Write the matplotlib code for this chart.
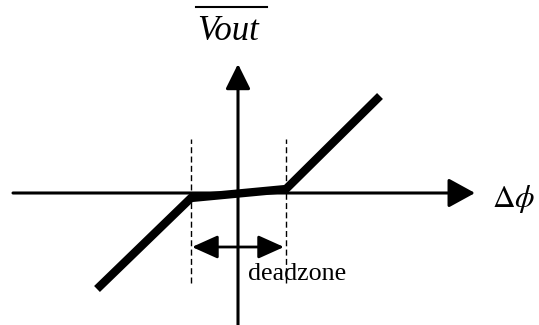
import matplotlib.pyplot as plt

plt.rcParams['mathtext.fontset'] = 'stix'

# Transfer characteristic (phase difference -> average output), origin at axis crossing
dphi = [-141, -47, 48, 142]
vout = [-96, -5, 4, 97]

# Edges of the dead zone
dead_lo = -47
dead_hi = 48

# Extent of the axes
x_axis = (-225, 237)
y_axis = (-135, 129)


def main():
    fig = plt.figure(figsize=(5.39, 3.25), dpi=100)
    ax = fig.add_axes([0, 0, 1, 1])
    ax.set_xlim(-238, 301)
    ax.set_ylim(-132, 193)
    ax.axis('off')

    k = 'black'

    # axes with arrow heads
    ax.annotate('', xy=(x_axis[1], 0), xytext=(x_axis[0], 0),
                arrowprops=dict(arrowstyle='-|>,head_length=1.64,head_width=0.9',
                                mutation_scale=10, lw=2.2, color=k,
                                shrinkA=0, shrinkB=0))
    ax.annotate('', xy=(0, y_axis[1]), xytext=(0, y_axis[0]),
                arrowprops=dict(arrowstyle='-|>,head_length=1.53,head_width=0.76',
                                mutation_scale=10, lw=2.2, color=k,
                                shrinkA=0, shrinkB=0))

    # dashed guides at the dead zone edges
    for xd in (dead_lo, dead_hi):
        ax.plot([xd, xd], [-90, 54], color=k, lw=1.0, dashes=(4.3, 2.4))

    # characteristic curve
    ax.plot(dphi, vout, color=k, lw=6, solid_capstyle='butt',
            solid_joinstyle='miter')

    # dead zone width marker
    ax.annotate('', xy=(dead_hi - 2, -54), xytext=(dead_lo + 1, -54),
                arrowprops=dict(arrowstyle='<|-|>,head_length=1.58,head_width=0.71',
                                mutation_scale=10, lw=2.0, color=k,
                                shrinkA=0, shrinkB=0))
    ax.text(10, -87, 'deadzone', family='Liberation Serif', fontsize=18.7,
            ha='left', va='baseline')

    # labels
    ax.text(-41, 153, 'Vout', family='Liberation Serif', style='italic',
            fontsize=25, ha='left', va='baseline')
    ax.plot([-42, 29], [186, 186], color=k, lw=1.5)
    ax.text(254, -14, r'$\Delta\phi$', fontsize=22.5, ha='left', va='baseline')

    fig.savefig('out.png', dpi=100, facecolor='white')


if __name__ == '__main__':
    main()
